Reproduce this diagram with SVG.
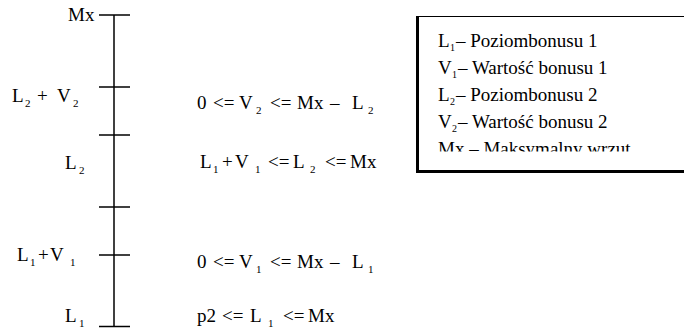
<svg xmlns="http://www.w3.org/2000/svg" width="684" height="330" viewBox="0 0 684 330">
<defs>
<clipPath id="lc"><rect x="419" y="17" width="265" height="134.5"/></clipPath>
</defs>
<rect width="684" height="330" fill="#fff"/>
<g id="axis" stroke="#000" stroke-width="1.5">
<line x1="114" y1="15" x2="114" y2="327"/>
<line x1="99" y1="15" x2="130" y2="15"/>
<line x1="99" y1="87" x2="130" y2="87"/>
<line x1="99" y1="135" x2="130" y2="135"/>
<line x1="99" y1="207" x2="130" y2="207"/>
<line x1="99" y1="255" x2="130" y2="255"/>
<line x1="99" y1="326.5" x2="130" y2="326.5"/>
</g>
<g id="labels">
<text font-family="Liberation Serif" font-size="19" x="68" y="21">Mx</text>
<text font-family="Liberation Serif" font-size="19" y="102"><tspan x="12">L</tspan><tspan font-size="11" x="25" dy="5">2</tspan><tspan x="37" dy="-5">+</tspan><tspan x="57">V</tspan><tspan font-size="11" x="73" dy="5">2</tspan></text>
<text font-family="Liberation Serif" font-size="19" y="169"><tspan x="65">L</tspan><tspan font-size="11" x="79" dy="5">2</tspan></text>
<text font-family="Liberation Serif" font-size="19" y="261"><tspan x="17">L</tspan><tspan font-size="11" x="30" dy="5">1</tspan><tspan x="38" dy="-5">+</tspan><tspan x="50">V</tspan><tspan font-size="11" x="70" dy="5">1</tspan></text>
<text font-family="Liberation Serif" font-size="19" y="322"><tspan x="65">L</tspan><tspan font-size="11" x="79" dy="5">1</tspan></text>
</g>
<g id="formulas">
<text font-family="Liberation Serif" font-size="19" y="109"><tspan x="197">0</tspan><tspan x="213">&lt;=</tspan><tspan x="239">V</tspan><tspan font-size="11" x="256" dy="5">2</tspan><tspan x="270" dy="-5">&lt;=</tspan><tspan x="297">Mx</tspan><tspan x="330">–</tspan><tspan x="352">L</tspan><tspan font-size="11" x="368" dy="5">2</tspan></text>
<text font-family="Liberation Serif" font-size="19" y="168"><tspan x="200">L</tspan><tspan font-size="11" x="213" dy="5">1</tspan><tspan x="222" dy="-5">+</tspan><tspan x="235">V</tspan><tspan font-size="11" x="255" dy="5">1</tspan><tspan x="268" dy="-5">&lt;=</tspan><tspan x="293">L</tspan><tspan font-size="11" x="310" dy="5">2</tspan><tspan x="325" dy="-5">&lt;=</tspan><tspan x="350">Mx</tspan></text>
<text font-family="Liberation Serif" font-size="19" y="268"><tspan x="197">0</tspan><tspan x="213">&lt;=</tspan><tspan x="239">V</tspan><tspan font-size="11" x="256" dy="5">1</tspan><tspan x="270" dy="-5">&lt;=</tspan><tspan x="297">Mx</tspan><tspan x="330">–</tspan><tspan x="352">L</tspan><tspan font-size="11" x="368" dy="5">1</tspan></text>
<text font-family="Liberation Serif" font-size="19" y="322"><tspan x="197">p2</tspan><tspan x="222">&lt;=</tspan><tspan x="250">L</tspan><tspan font-size="11" x="268" dy="5">1</tspan><tspan x="283" dy="-5">&lt;=</tspan><tspan x="308">Mx</tspan></text>
</g>
<g id="legend">
<line x1="416" y1="16.5" x2="684" y2="16.5" stroke="#000" stroke-width="1"/>
<line x1="417.5" y1="16" x2="417.5" y2="173" stroke="#000" stroke-width="3"/>
<line x1="416" y1="171.5" x2="684" y2="171.5" stroke="#000" stroke-width="3"/>
<g clip-path="url(#lc)">
<text font-family="Liberation Serif" font-size="19" y="47"><tspan x="438">L</tspan><tspan font-size="10" x="450" dy="4">1</tspan><tspan x="456" dy="-4">– Poziombonusu 1</tspan></text>
<text font-family="Liberation Serif" font-size="19" y="74"><tspan x="438">V</tspan><tspan font-size="10" x="452" dy="4">1</tspan><tspan x="458" dy="-4">– Wartość bonusu 1</tspan></text>
<text font-family="Liberation Serif" font-size="19" y="101"><tspan x="438">L</tspan><tspan font-size="10" x="450" dy="4">2</tspan><tspan x="456" dy="-4">– Poziombonusu 2</tspan></text>
<text font-family="Liberation Serif" font-size="19" y="128"><tspan x="438">V</tspan><tspan font-size="10" x="452" dy="4">2</tspan><tspan x="458" dy="-4">– Wartość bonusu 2</tspan></text>
<text font-family="Liberation Serif" font-size="19" y="155" x="438">Mx – Maksymalny wrzut</text>
</g>
</g>
</svg>
